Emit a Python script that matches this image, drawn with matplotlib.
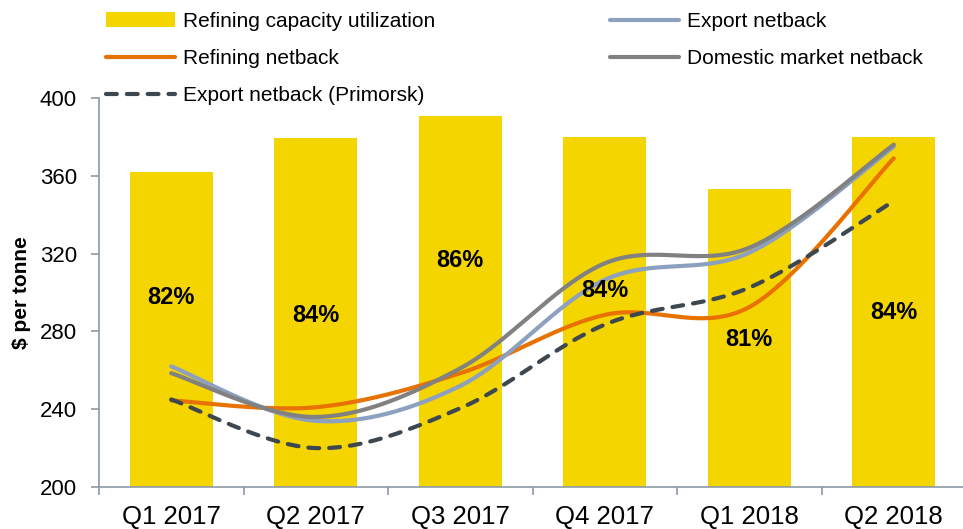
import numpy as np
import matplotlib
matplotlib.use("Agg")
import matplotlib.pyplot as plt

plt.rcParams['font.family'] = ['Liberation Sans', 'DejaVu Sans']

quarters = ["Q1 2017", "Q2 2017", "Q3 2017", "Q4 2017", "Q1 2018", "Q2 2018"]
utilization = [82.4, 84.3, 85.6, 84.4, 81.4, 84.4]   # % refining capacity utilization
refining_netback = [244.5, 241, 258.5, 288.5, 292.5, 369]
export_netback = [262, 234, 252, 306.5, 320.5, 375]
domestic_netback = [258.5, 236, 261, 315, 323, 376]
primorsk_netback = [245, 220, 240.5, 283.5, 302.5, 347]

# where the % labels sit (in $ per tonne units), placed by hand in the original
label_y = [297.5, 288, 316.5, 301, 276, 289.5]


def smooth(xs, ys, n=40):
    # excel-like smoothed line: catmull-rom bezier through the points
    p = np.column_stack([xs, ys]).astype(float)
    pts = np.vstack([p[0], p, p[-1]])
    out = []
    for i in range(1, len(pts) - 2):
        p0, p1, p2, p3 = pts[i - 1], pts[i], pts[i + 1], pts[i + 2]
        c1 = p1 + (p2 - p0) / 6
        c2 = p2 - (p3 - p1) / 6
        t = np.linspace(0, 1, n)[:, None]
        seg = ((1 - t) ** 3) * p1 + 3 * ((1 - t) ** 2) * t * c1 + 3 * (1 - t) * t ** 2 * c2 + t ** 3 * p2
        out.append(seg if i == 1 else seg[1:])
    out = np.vstack(out)
    return out[:, 0], out[:, 1]


fig = plt.figure(figsize=(9.63, 5.29), dpi=100)
ax = fig.add_axes([99 / 963, 42 / 529, 867 / 963, 389 / 529])
ax2 = ax.twinx()

x = np.arange(len(quarters))
bars = ax2.bar(x, utilization, width=0.575, color='#F4D500', label='Refining capacity utilization')
ax2.set_ylim(64.4, 86.6)
ax2.set_yticks([])
for s in ax2.spines.values():
    s.set_visible(False)

ax.set_zorder(ax2.get_zorder() + 1)
ax.patch.set_visible(False)

sx, sy = smooth(x, refining_netback)
l_ref, = ax.plot(sx, sy, color='#E87200', lw=3, solid_capstyle='round', label='Refining netback')
sx, sy = smooth(x, export_netback)
l_exp, = ax.plot(sx, sy, color='#8CA0BF', lw=3, solid_capstyle='round', label='Export netback')
sx, sy = smooth(x, domestic_netback)
l_dom, = ax.plot(sx, sy, color='#818181', lw=3, solid_capstyle='round', label='Domestic market netback')
sx, sy = smooth(x, primorsk_netback)
l_pri, = ax.plot(sx, sy, color='#3D474F', lw=3, linestyle=(0, (2.6, 2.4)), dash_capstyle='round',
                 label='Export netback (Primorsk)')

for i, v in enumerate(utilization):
    ax.text(i, label_y[i], f"{v:.0f}%", ha='center', va='center', fontsize=17, fontweight='bold')

ax.set_xlim(-0.5, len(quarters) - 0.5)
ax.set_ylim(200, 400)
ax.set_yticks([200, 240, 280, 320, 360, 400])
ax.set_xticks(np.arange(len(quarters) + 1) - 0.5)
ax.set_xticklabels([])
ax.set_xticks(x, minor=True)
ax.set_xticklabels(quarters, minor=True)
ax.tick_params(axis='x', which='major', length=6, color='#8C99A5', width=1.2)
ax.tick_params(axis='x', which='minor', length=0, labelsize=18.5, pad=13)
ax.tick_params(axis='y', length=6, color='#8C99A5', width=1.2, labelsize=16, pad=10)
for side in ['top', 'right']:
    ax.spines[side].set_visible(False)
for side in ['left', 'bottom']:
    ax.spines[side].set_color('#8C99A5')
    ax.spines[side].set_linewidth(1.2)

ax.set_ylabel("$ per tonne", fontsize=15, fontweight='bold')
ax.yaxis.set_label_coords(-0.079, 0.5)

handles = [bars, l_ref, l_pri, l_exp, l_dom]
fig.legend(handles, [h.get_label() for h in handles], ncol=2, loc='upper left',
           bbox_to_anchor=(106 / 963, 1 - 12 / 529), frameon=False, fontsize=15,
           handlelength=3.3, handletextpad=0.4, columnspacing=8.4, labelspacing=0.86,
           borderpad=0, borderaxespad=0)

fig.savefig("out.png", dpi=100)
